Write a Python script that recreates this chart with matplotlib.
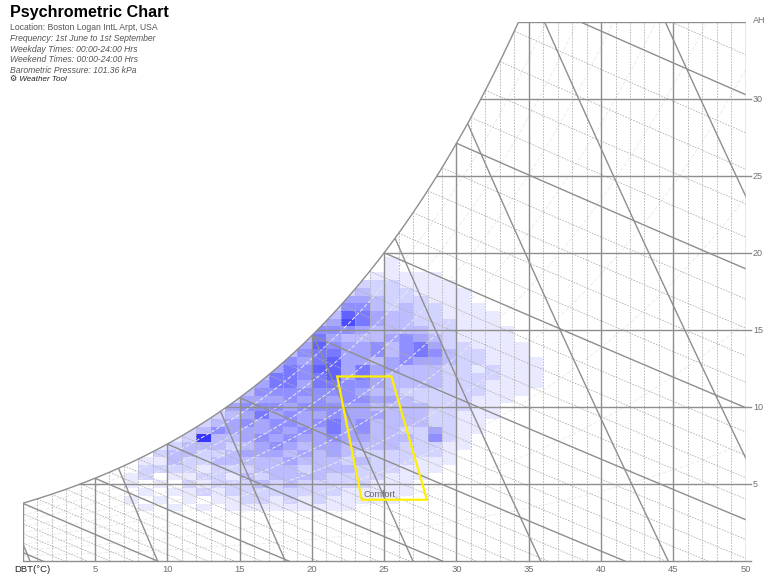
import numpy as np
import matplotlib
matplotlib.use('Agg')
import matplotlib.pyplot as plt
from matplotlib.patches import Polygon, Rectangle
from matplotlib.colors import LinearSegmentedColormap

######################################
### DATA #############################
######################################
pressure = 101.36  # kPa
dbt_ticks = [5, 10, 15, 20, 25, 30, 35, 40, 45, 50]
ah_ticks = [5, 10, 15, 20, 25, 30]

# comfort zone corners (DBT degC, AH g/kg)
comfort_dbt = [21.75, 25.5, 27.95, 23.45]
comfort_ah = [12.0, 12.0, 4.0, 4.0]

# frequency cells: one list per 1 degC DBT column (first column = cell_dbt0),
# each entry is a 0.5 g/kg AH bin starting at cell_ah0, shade level 0-9
cell_dbt0 = 7
cell_ah0 = 3.25
cell_ah_step = 0.5
cell_levels = [
    [0,1,0,1,1],                                                          # 7
    [1,0,1,0,2,2,1],                                                      # 8
    [0,1,0,1,0,2,1,2,1],                                                  # 9
    [1,0,1,0,1,2,3,3,2,1],                                                # 10
    [0,1,1,2,1,2,2,3,3,2,2],                                              # 11
    [1,0,2,1,2,1,2,2,3,9,3,2],                                            # 12
    [0,1,1,2,2,2,3,2,3,3,5,3,2],                                          # 13
    [1,1,2,2,1,2,3,3,2,3,4,4,3,4,2],                                      # 14
    [1,2,2,2,3,2,3,4,3,4,4,5,4,5,4,3,2],                                  # 15
    [1,2,2,3,2,3,3,4,4,5,4,4,6,5,4,5,4,3],                                # 16
    [1,1,2,2,3,3,3,4,5,4,5,5,4,5,4,5,6,6,4,3],                            # 17
    [1,2,2,3,3,3,4,3,4,5,4,5,5,4,5,5,6,6,6,5,3],                          # 18
    [1,1,2,2,3,2,3,4,3,4,5,4,4,5,4,5,4,5,5,4,5,4,3],                      # 19
    [1,2,2,2,3,3,3,3,4,4,4,5,4,5,5,5,6,6,7,6,6,7,6,5,3],                  # 20
    [1,1,2,2,2,3,3,4,4,5,6,6,5,5,4,5,6,7,7,7,6,5,4,5,4,3,2],              # 21
    [1,1,1,2,2,3,2,3,3,4,4,4,4,4,5,5,5,4,4,4,4,4,3,5,8,7,5,4,2],          # 22
    [0,1,1,2,2,2,3,2,3,4,5,5,4,4,5,4,5,6,6,4,4,4,3,4,6,6,5,4,3,2],        # 23
    [0,1,1,1,2,2,2,2,3,3,3,3,4,3,4,3,4,4,4,3,5,5,3,3,4,4,3,3,2,2,1],      # 24
    [0,1,1,1,1,2,2,2,3,3,3,3,3,3,4,3,3,3,4,4,3,3,4,3,3,3,2,2,2,2,1,1,1],  # 25
    [0,0,1,1,1,1,2,2,2,3,2,3,3,3,3,2,3,3,3,5,5,5,5,3,3,3,3,2,2,1,1],      # 26
    [0,0,0,0,1,1,1,2,2,2,2,3,3,3,2,2,3,3,3,4,6,6,4,3,2,2,2,2,1,1,1],      # 27
    [0,0,0,0,0,1,1,2,2,5,4,2,2,2,2,2,3,3,3,4,5,4,3,2,2,2,2,1,1,1,1],      # 28
    [0,0,0,0,0,0,1,1,1,2,2,2,2,2,2,2,2,2,2,3,3,2,2,2,2,1,1,1,1,1],        # 29
    [0,0,0,0,0,0,0,0,1,1,1,1,1,2,2,2,2,2,2,2,2,2,1,1,1,1,1,1,1],          # 30
    [0,0,0,0,0,0,0,0,0,0,1,1,1,1,1,2,2,2,1,2,2,1,1,1,1,1,1],              # 31
    [0,0,0,0,0,0,0,0,0,0,0,0,1,1,1,1,1,2,2,1,1,1,1,1,1,1],                # 32
    [0,0,0,0,0,0,0,0,0,0,0,0,0,0,1,1,1,1,1,1,1,1,1,1],                    # 33
    [0,0,0,0,0,0,0,0,0,0,0,0,0,0,0,1,1,1,1,1,1,1],                        # 34
    [0,0,0,0,0,0,0,0,0,0,0,0,0,0,0,0,1,1,1,1],                            # 35
]

info_lines = [
    ('Location: Boston Logan IntL Arpt, USA', 'normal'),
    ('Frequency: 1st June to 1st September', 'italic'),
    ('Weekday Times: 00:00-24:00 Hrs', 'italic'),
    ('Weekend Times: 00:00-24:00 Hrs', 'italic'),
    ('Barometric Pressure: 101.36 kPa', 'italic'),
]


######################################
### PSYCHROMETRICS ###################
######################################
def p_sat(t):
    return 0.61094 * np.exp(17.625 * t / (t + 243.04))


def w_sat(t, rh=1.0):
    pv = rh * p_sat(t)
    return 622.0 * pv / (pressure - pv)


def t_sat(w):
    pv = w * pressure / (622.0 + w)
    a = np.log(pv / 0.61094)
    return 243.04 * a / (17.625 - a)


t_max, w_max = 50.0, 35.0
t_top = t_sat(w_max)

W_PX, H_PX = 766, 578
fig = plt.figure(figsize=(W_PX / 100, H_PX / 100), dpi=100)
ax = fig.add_axes([22.7 / W_PX, 1 - 561.4 / H_PX, 723 / W_PX, 539.4 / H_PX])
ax.set_xlim(0, t_max)
ax.set_ylim(0, w_max)
ax.axis('off')

solid = dict(color='#8e8e8e', lw=1.0, zorder=4)
dotted = dict(color='#b2b2b2', lw=0.6, ls=(0, (2.0, 1.5)), zorder=3)

# chart region used as clip path
tt = np.linspace(0, t_top, 300)
region = Polygon([(0, 0)] + list(zip(tt, w_sat(tt))) + [(t_max, w_max), (t_max, 0)],
                 closed=True, transform=ax.transData, facecolor='none', edgecolor='none')
ax.add_patch(region)

# frequency cells
cmap = LinearSegmentedColormap.from_list('freq', ['#ffffff', '#3636ff'])
for j, col in enumerate(cell_levels):
    for i, lev in enumerate(col):
        if lev <= 0:
            continue
        r = Rectangle((cell_dbt0 + j, cell_ah0 + i * cell_ah_step), 1, cell_ah_step,
                      facecolor=cmap(lev / 9), edgecolor='none', zorder=1)
        ax.add_patch(r)
        r.set_clip_path(region)

# relative humidity curves
t_line = np.linspace(0, t_max, 300)
for rh in np.arange(0.1, 1.0, 0.1):
    ln, = ax.plot(t_line, w_sat(t_line, rh), color='#ececec', lw=0.7, ls=(0, (4, 2)), zorder=2)
    ln.set_clip_path(region)

# wet bulb / enthalpy lines
for tw in range(-10, 41):
    h0 = 1.006 * tw + w_sat(tw) / 1000 * (2501 + 1.86 * tw)
    t_end = h0 / 1.006
    t_seg = np.linspace(tw, t_end, 60)
    w_seg = 1000 * (h0 - 1.006 * t_seg) / (2501 + 1.86 * t_seg)
    ln, = ax.plot(t_seg, w_seg, **(solid if tw % 5 == 0 else dotted))
    ln.set_clip_path(region)

# specific volume lines
w_line = np.linspace(0, 40, 50)
for v in np.arange(0.775, 0.96, 0.025):
    t_v = v * pressure / (0.287042 * (1 + 1.607858 * w_line / 1000)) - 273.15
    ln, = ax.plot(t_v, w_line, **solid)
    ln.set_clip_path(region)

# dry bulb verticals
for t in range(1, 50):
    top = min(w_sat(t), w_max)
    ax.plot([t, t], [0, top], **(solid if t % 5 == 0 else dotted))

# absolute humidity horizontals
for w in ah_ticks:
    ax.plot([t_sat(w), t_max + 0.35], [w, w], clip_on=False, **solid)

# frame and saturation curve
ax.plot(tt, w_sat(tt), **solid)
ax.plot([0, t_max + 0.35], [0, 0], clip_on=False, **solid)
ax.plot([t_max, t_max], [0, w_max], **solid)
ax.plot([t_top, t_max], [w_max, w_max], **solid)
ax.plot([0, 0], [0, w_sat(0)], **solid)

# comfort zone
ax.add_patch(Polygon(list(zip(comfort_dbt, comfort_ah)), closed=True, facecolor='none',
                     edgecolor='#fff000', lw=1.6, zorder=6))
ax.text(comfort_dbt[3] + 0.15, comfort_ah[3] + 0.35, 'Comfort', fontsize=6.5,
        color='#666666', ha='left', va='center', zorder=7, family='Liberation Sans')

# axis labels
for t in dbt_ticks:
    ax.text(t, -0.5, str(t), ha='center', va='center', fontsize=6.8, color='#707070',
            clip_on=False, family='Liberation Sans')
ax.text(0.65, -0.5, 'DBT(°C)', ha='center', va='center', fontsize=6.8, color='#222222',
        clip_on=False, family='Liberation Sans')
for w in ah_ticks:
    ax.text(t_max + 0.5, w, str(w), ha='left', va='center', fontsize=6.5, color='#707070',
            clip_on=False, family='Liberation Sans')
ax.text(t_max + 0.5, w_max + 0.1, 'AH', ha='left', va='center', fontsize=6.5, color='#707070',
        clip_on=False, family='Liberation Sans')

# header text
fig.text(10 / W_PX, 1 - 12 / H_PX, 'Psychrometric Chart', fontsize=11.6, fontweight='bold',
         ha='left', va='center', family='Liberation Sans')
for k, (txt, style) in enumerate(info_lines):
    fig.text(10 / W_PX, 1 - (27.3 + 10.9 * k) / H_PX, txt, fontsize=6.2, style=style,
             color='#555555', ha='left', va='center', family='Liberation Sans')
fig.text(10 / W_PX, 1 - 79.8 / H_PX, '\u2699 Weather Tool', fontsize=5.8, style='italic',
         color='#222222', ha='left', va='center', family=['Liberation Sans', 'DejaVu Sans'])

fig.savefig('out.png', dpi=100)
